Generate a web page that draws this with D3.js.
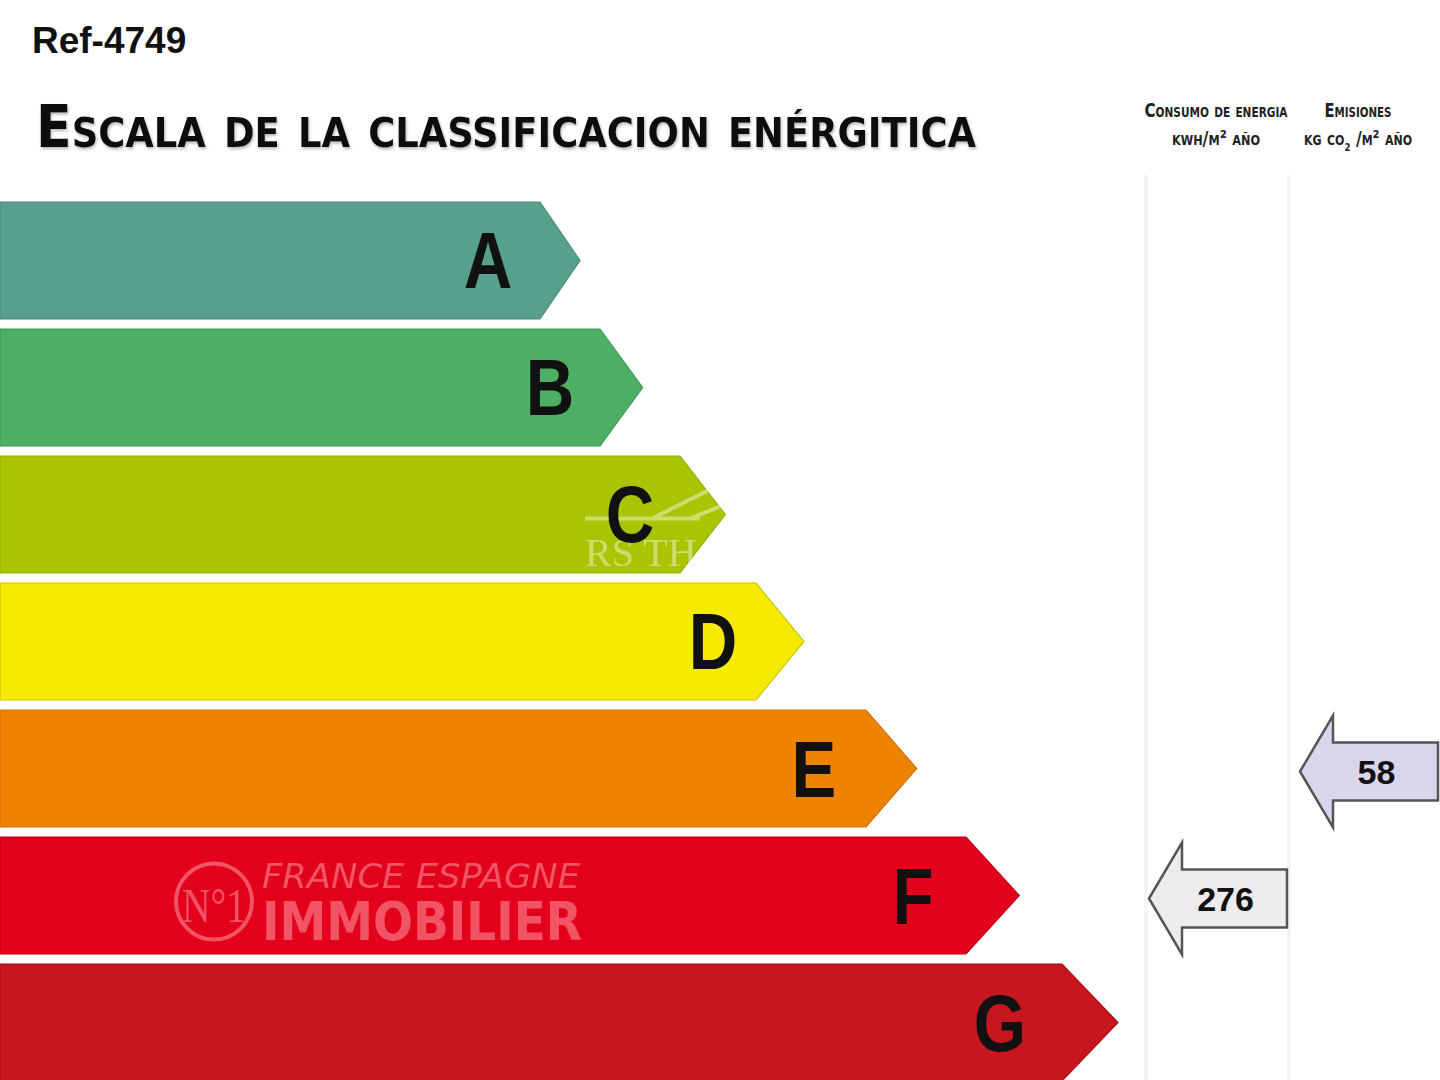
<!DOCTYPE html>
<html><head><meta charset="utf-8">
<script src="https://cdn.jsdelivr.net/npm/d3@7"></script>
<style>
html,body{margin:0;padding:0;background:#fff;}
svg{display:block;}
</style></head>
<body>
<script>
// ---- data ----
const classes = ["A","B","C","D","E","F","G"];
const classLength = [540, 600, 680, 756, 866, 966, 1062];   // body extent of each class bar
const classColors = ["#58a08c","#4caf63","#a9c400","#f4eb00","#ee8300","#e2001b","#c8161f"];
const classStroke = ["#4a8c79","#3f9a55","#98b000","#c9c400","#d07000","#c00014","#a81018"];
const refLabel = "Ref-4749";
const titleText = "Escala de la classificacion enérgitica";
const columnTitles = ["Consumo de energia", "Emisiones"];
const consumoValue = 276, consumoClass = "F";
const emisionValue = 58, emisionClass = "E";

const W = 1440, H = 1080;
const svg = d3.select("body").append("svg").attr("width", W).attr("height", H);

const defs = svg.append("defs");
const f = defs.append("filter").attr("id","ts").attr("x","-5%").attr("y","-20%").attr("width","110%").attr("height","160%");
f.append("feDropShadow").attr("dx",1).attr("dy",2).attr("stdDeviation",1.5).attr("flood-color","#888").attr("flood-opacity",0.6);

const x = d3.scaleLinear().domain([0, W]).range([0, W]);
const y = d3.scaleBand().domain(classes).range([202, 1081]).paddingInner(0.079).paddingOuter(0);
const bw = y.bandwidth();
const letterInset = [52, 50, 50, 43, 52, 53, 62];

// column guides
const colX = d3.scaleOrdinal().domain(["consumo","emision"]).range([[1146,1289],[1289,1440]]);
svg.selectAll("line.col").data([1146,1289]).join("line")
  .attr("x1", d=>d).attr("x2", d=>d).attr("y1",175).attr("y2",H)
  .attr("stroke","#f5f5f5").attr("stroke-width",4);

// ref label
svg.append("text").attr("x",32).attr("y",53).text(refLabel)
  .attr("font-family","Liberation Sans, Arial, sans-serif").attr("font-weight","bold")
  .attr("font-size",37).attr("fill","#111");

// title
svg.append("text").attr("x",36).attr("y",147).text(titleText)
  .attr("font-family","DejaVu Sans Condensed, DejaVu Sans, sans-serif").attr("font-weight","bold")
  .style("font-variant","small-caps")
  .attr("font-size",58).attr("fill","#111")
  .attr("textLength",940).attr("lengthAdjust","spacingAndGlyphs")
  .attr("filter","url(#ts)");

// column headings
const hdrFont = "DejaVu Sans Condensed, sans-serif";
const colCenters = [1216, 1358];
const colWidths1 = [143, 67];
columnTitles.forEach((t,i)=>{
  svg.append("text").attr("x",colCenters[i]).attr("y",117).text(t)
    .attr("text-anchor","middle")
    .attr("font-family",hdrFont).attr("font-weight","bold")
    .style("font-variant","small-caps").attr("font-size",20).attr("fill","#222")
    .attr("textLength",colWidths1[i]).attr("lengthAdjust","spacingAndGlyphs");
});
// unit lines
const u1 = svg.append("text").attr("x",colCenters[0]).attr("y",145).attr("text-anchor","middle")
  .attr("font-family",hdrFont).attr("font-weight","bold").style("font-variant","small-caps")
  .attr("font-size",20).attr("fill","#222")
  .attr("textLength",88).attr("lengthAdjust","spacingAndGlyphs");
u1.text("kwh/m² año");
const u2 = svg.append("text").attr("x",colCenters[1]).attr("y",145).attr("text-anchor","middle")
  .attr("font-family",hdrFont).attr("font-weight","bold").style("font-variant","small-caps")
  .attr("font-size",20).attr("fill","#222")
  .attr("textLength",108).attr("lengthAdjust","spacingAndGlyphs");
u2.append("tspan").text("kg co");
u2.append("tspan").attr("font-size",11).attr("dy",6).style("font-variant","normal").text("2");
u2.append("tspan").attr("dy",-6).text(" /m² año");

// class bars
const tipScale = d3.scaleLinear().domain([0, classes.length-1]).range([40, 56]);
const bars = svg.append("g");
classes.forEach((c,i)=>{
  const top = y(c), bot = top + bw, mid = top + bw/2;
  const r = x(classLength[i]), tip = r + tipScale(i);
  bars.append("path")
    .attr("d", `M0,${top}L${r},${top}L${tip},${mid}L${r},${bot}L0,${bot}Z`)
    .attr("fill", classColors[i]).attr("stroke", classStroke[i]).attr("stroke-width",1.2);
});

// watermark in C bar (RS TH...)
const cMid = y("C") + bw/2;
const wm = svg.append("g").attr("opacity",0.5);
wm.append("path").attr("d",`M585,${cMid+4}L700,${cMid+4}M652,${cMid+4}L712,${cMid-26}M690,${cMid+4}L730,${cMid-12}`)
  .attr("stroke","#f4f8dc").attr("stroke-width",4).attr("fill","none");
wm.append("text").attr("x",585).attr("y",cMid+52).text("RS TH")
  .attr("font-family","Liberation Serif, serif").attr("font-size",40).attr("fill","#f4f8dc");

// logo watermark in F bar
const fMid = y("F") + bw/2;
const lg = svg.append("g").attr("opacity",0.55);
lg.append("circle").attr("cx",214).attr("cy",fMid+6).attr("r",38).attr("fill","none").attr("stroke","#ff9aa0").attr("stroke-width",4);
lg.append("text").attr("x",214).attr("y",fMid+26).attr("text-anchor","middle").text("N°1")
  .attr("font-family","Liberation Serif, serif").attr("font-size",48).attr("fill","#ff9aa0")
  .attr("textLength",64).attr("lengthAdjust","spacingAndGlyphs");
lg.append("text").attr("x",262).attr("y",fMid-8).text("FRANCE ESPAGNE")
  .attr("font-family","DejaVu Sans Condensed, sans-serif").attr("font-style","italic").attr("font-size",34).attr("fill","#ff9aa0")
  .attr("textLength",318).attr("lengthAdjust","spacingAndGlyphs");
lg.append("text").attr("x",262).attr("y",fMid+44).text("IMMOBILIER")
  .attr("font-family","DejaVu Sans Condensed, sans-serif").attr("font-weight","bold").attr("font-size",54).attr("fill","#ff9aa0")
  .attr("textLength",320).attr("lengthAdjust","spacingAndGlyphs");

// class letters
classes.forEach((c,i)=>{
  const mid = y(c) + bw/2;
  const lx = x(classLength[i]) - letterInset[i];
  svg.append("text").attr("x", lx).attr("y", mid + 28)
    .attr("text-anchor","middle").text(c)
    .attr("font-family","Liberation Sans, Arial, sans-serif").attr("font-weight","bold")
    .attr("font-size",80).attr("fill","#111")
    .attr("transform", `translate(${lx},0) scale(0.84,1) translate(${-lx},0)`);
});

// indicator arrows
function indicator(val, cls, col, fill){
  const [x0,x1] = colX(col);
  const mid = y(cls) + bw/2 + 3;
  const tipX = x0 + 3 + (col==="emision"?8:0), headX = tipX + 33, right = x1 - 2;
  const hh = 56, bh = 29;
  svg.append("path")
    .attr("d", `M${tipX},${mid}L${headX},${mid-hh}L${headX},${mid-bh}L${right},${mid-bh}L${right},${mid+bh}L${headX},${mid+bh}L${headX},${mid+hh}Z`)
    .attr("fill", fill).attr("stroke","#555").attr("stroke-width",2.5).attr("stroke-linejoin","miter");
  svg.append("text").attr("x",(headX+right)/2 - 9).attr("y",mid+12).attr("text-anchor","middle").text(val)
    .attr("font-family","Liberation Sans, Arial, sans-serif").attr("font-weight","bold")
    .attr("font-size",34).attr("fill","#111");
}
indicator(consumoValue, consumoClass, "consumo", "#ececec");
indicator(emisionValue, emisionClass, "emision", "#d9d5ec");
</script>
</body></html>
